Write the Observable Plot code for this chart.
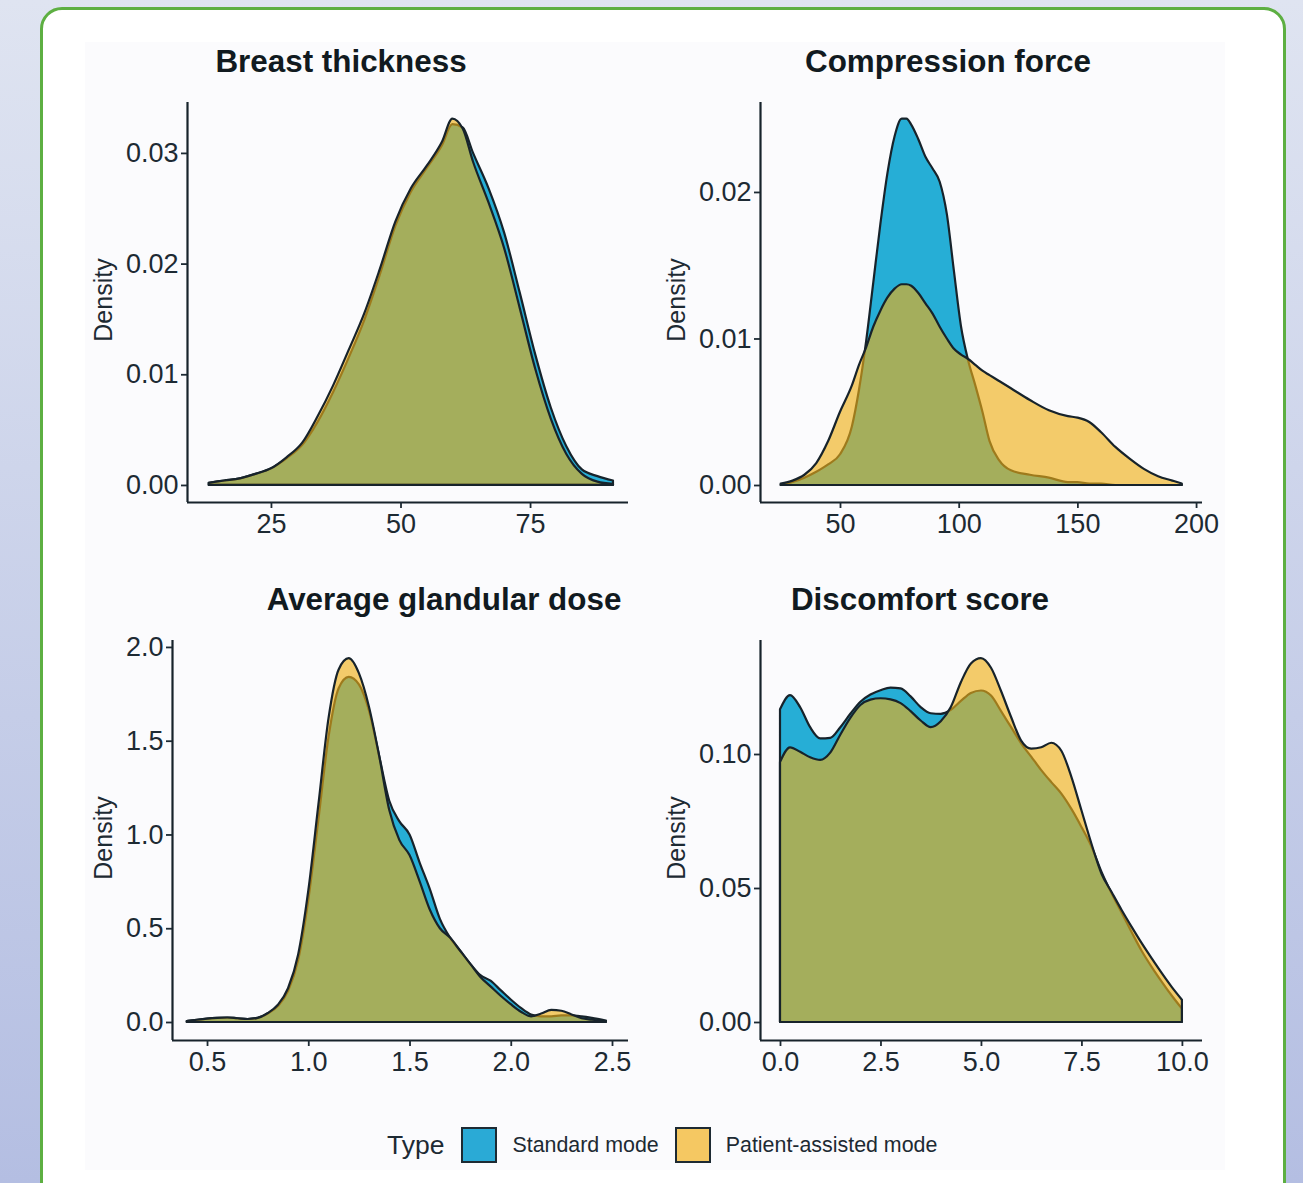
<!DOCTYPE html>
<html>
<head>
<meta charset="utf-8">
<script src="https://cdn.jsdelivr.net/npm/d3@7"></script>
<script src="https://cdn.jsdelivr.net/npm/@observablehq/plot@0.6"></script>
<style>
html,body{margin:0;padding:0;}
body{width:1303px;height:1183px;overflow:hidden;position:relative;
  background:linear-gradient(180deg,#dfe4f1 0%,#b4bee2 100%);
  font-family:"Liberation Sans",Arial,Helvetica,sans-serif;color:#1d2a33;}
#card{position:absolute;left:40px;top:7px;width:1240px;height:1220px;background:#ffffff;
  border:3px solid #5daf42;border-radius:22px;}
#inner{position:absolute;left:85px;top:42px;width:1140px;height:1128px;background:#fbfbfd;}
.panel{position:absolute;}
.panel svg{overflow:visible;}
.title{position:absolute;font-weight:bold;font-size:31.4px;line-height:30px;white-space:nowrap;transform:translateX(-50%);color:#111a20;}
.ylab{position:absolute;font-size:25px;line-height:25px;white-space:nowrap;transform:translate(-50%,-50%) rotate(-90deg);}
#legend{position:absolute;left:387px;top:1126px;height:38px;display:flex;align-items:center;white-space:nowrap;}
#legend .lt{font-size:26.5px;margin-right:17px;}
#legend .sw{width:32px;height:32px;border:2px solid #1d2a33;box-sizing:content-box;margin-right:15px;}
#legend .ll{font-size:21.4px;margin-right:16px;}
</style>
</head>
<body>
<div id="card"></div>
<div id="inner"></div>
<div id="root"></div>
<script>
// ---------- data ----------
const types = ["Standard mode", "Patient-assisted mode"];

// Breast thickness
const thickX   = [13,16,19,22,25,28,31,34,37,40,43,46,49,52,55,58,60,62,64,67,70,73,76,79,82,85,88,91];
const thickStd = [0.0002,0.0004,0.0006,0.0010,0.0015,0.0024,0.0036,0.0057,0.0084,0.0115,0.0149,0.0190,0.0234,0.0265,0.0286,0.0307,0.0326,0.0323,0.0300,0.0268,0.0228,0.0174,0.0118,0.0070,0.0035,0.0014,0.0008,0.0004];
const thickPat = [0.0002,0.0004,0.0006,0.0010,0.0015,0.0025,0.0038,0.0062,0.0090,0.0122,0.0155,0.0195,0.0238,0.0268,0.0288,0.0310,0.0331,0.0322,0.0292,0.0255,0.0214,0.0160,0.0105,0.0060,0.0028,0.0010,0.0003,0.0001];
const thickXTicks = [25,50,75];
const thickYTicks = [0,0.01,0.02,0.03];

// Compression force
const forceX   = [25,30,35,40,45,50,55,58,61,64,67,70,73,76,78,80,83,86,89,92,95,98,101,104,107,110,113,117,122,130,138,146,150,155,160,166,172,178,184,190,194];
const forceStd = [0,0.0002,0.0005,0.0009,0.0014,0.0021,0.0040,0.0065,0.0098,0.0138,0.0178,0.0213,0.0238,0.0250,0.0250,0.0246,0.0236,0.0224,0.0216,0.0207,0.0185,0.0146,0.0108,0.0085,0.0068,0.0050,0.0030,0.0017,0.0010,0.0007,0.0005,0.0002,0.0002,0.0001,0.0001,0,0,0,0,0,0];
const forcePat = [0.0001,0.0003,0.0007,0.0015,0.0030,0.0050,0.0068,0.0082,0.0094,0.0108,0.0119,0.0128,0.0134,0.0137,0.0137,0.0136,0.0131,0.0124,0.0117,0.0108,0.0100,0.0093,0.0089,0.0086,0.0082,0.0078,0.0075,0.0071,0.0066,0.0058,0.0051,0.0047,0.0046,0.0043,0.0036,0.0026,0.0018,0.0011,0.0006,0.0003,0.0001];
const forceXTicks = [50,100,150,200];
const forceYTicks = [0,0.01,0.02];

// Average glandular dose
const doseX   = [0.40,0.45,0.50,0.55,0.60,0.65,0.70,0.75,0.80,0.85,0.90,0.95,1.00,1.05,1.10,1.15,1.20,1.25,1.30,1.35,1.40,1.45,1.50,1.55,1.60,1.65,1.70,1.75,1.80,1.85,1.90,1.95,2.00,2.05,2.10,2.15,2.20,2.25,2.30,2.35,2.40,2.47];
const doseStd = [0.005,0.012,0.018,0.022,0.024,0.020,0.016,0.022,0.045,0.085,0.165,0.33,0.65,1.08,1.52,1.78,1.84,1.80,1.66,1.42,1.18,1.07,1.00,0.85,0.71,0.55,0.45,0.38,0.31,0.25,0.22,0.17,0.12,0.075,0.04,0.03,0.03,0.035,0.035,0.03,0.022,0.008];
const dosePat = [0.005,0.012,0.018,0.022,0.024,0.020,0.016,0.022,0.048,0.092,0.18,0.36,0.70,1.16,1.62,1.88,1.94,1.86,1.68,1.42,1.13,0.97,0.89,0.75,0.60,0.50,0.45,0.38,0.31,0.24,0.19,0.14,0.095,0.055,0.03,0.045,0.065,0.06,0.04,0.02,0.012,0.003];
const doseXTicks = [0.5,1.0,1.5,2.0,2.5];
const doseYTicks = [0,0.5,1.0,1.5,2.0];

// Discomfort score
const painX   = [0,0.25,0.5,0.75,1,1.25,1.5,1.75,2,2.25,2.5,2.75,3,3.25,3.5,3.75,4,4.25,4.5,4.75,5,5.25,5.5,5.75,6,6.25,6.5,6.75,7,7.25,7.5,7.75,8,8.25,8.5,8.75,9,9.25,9.5,9.75,10];
const painStd = [0.1167,0.1220,0.1175,0.1100,0.1058,0.1060,0.1100,0.1150,0.1195,0.1222,0.1238,0.1248,0.1245,0.1215,0.1175,0.1152,0.1150,0.1165,0.1198,0.1228,0.1237,0.1218,0.1160,0.1100,0.1040,0.0990,0.0940,0.0895,0.0852,0.0795,0.0728,0.0655,0.0560,0.0480,0.0408,0.0335,0.0265,0.0205,0.0150,0.0098,0.0050];
const painPat = [0.0970,0.1025,0.1008,0.0988,0.0978,0.1005,0.1072,0.1135,0.1183,0.1203,0.1208,0.1204,0.1190,0.1160,0.1125,0.1100,0.1122,0.1175,0.1268,0.1338,0.1358,0.1322,0.1235,0.1138,0.1050,0.1020,0.1025,0.1042,0.1012,0.0915,0.0790,0.0665,0.0553,0.0485,0.0418,0.0355,0.0294,0.0237,0.0182,0.0130,0.0083];
const painXTicks = [0,2.5,5,7.5,10];
const painYTicks = [0,0.05,0.10];

// ---------- drawing ----------
const ink = "#17232b";
const blue = "#26aed6";
const yellow = "#eeae14";
const root = document.getElementById("root");

function rowsOf(xs, s, p) { return xs.map((x, i) => ({x, std: s[i], pat: p[i]})); }

function panel(o) {
  const [bx, by, bw, bh] = o.box;
  const f = o.frame;
  const rows = o.rows;
  const svg = Plot.plot({
    width: bw, height: bh,
    marginLeft: f.x0 - bx, marginRight: bx + bw - f.x1,
    marginTop: f.y0 - by, marginBottom: by + bh - f.y1,
    x: {domain: o.xDomain, label: null},
    y: {domain: o.yDomain, label: null},
    style: {background: "transparent", color: "#1d2a33", fontSize: "27px", fontFamily: "'Liberation Sans', Arial, sans-serif", overflow: "visible"},
    marks: [
      Plot.areaY(rows, {x: "x", y: "std", fill: blue, stroke: ink, strokeWidth: 2.2, curve: "monotone-x"}),
      Plot.areaY(rows, {x: "x", y: "pat", fill: yellow, fillOpacity: 0.63, stroke: ink, strokeWidth: 2.2, curve: "monotone-x"}),
      Plot.ruleX([o.xDomain[0]], {stroke: ink, strokeWidth: 2.2}),
      Plot.ruleY([o.yDomain[0]], {stroke: ink, strokeWidth: 2.2}),
      Plot.axisX({ticks: o.xTicks, tickFormat: o.xFmt, tickSize: 6, tickPadding: 5, strokeWidth: 1.8, label: null}),
      Plot.axisY({ticks: o.yTicks, tickFormat: o.yFmt, tickSize: 6, tickPadding: 3, strokeWidth: 1.8, label: null})
    ]
  });
  const d = document.createElement("div");
  d.className = "panel";
  d.style.left = bx + "px"; d.style.top = by + "px";
  d.appendChild(svg);
  root.appendChild(d);

  const t = document.createElement("div");
  t.className = "title"; t.textContent = o.title;
  t.style.left = o.titlePos[0] + "px"; t.style.top = o.titlePos[1] + "px";
  root.appendChild(t);

  const l = document.createElement("div");
  l.className = "ylab"; l.textContent = "Density";
  l.style.left = o.ylabPos[0] + "px"; l.style.top = o.ylabPos[1] + "px";
  root.appendChild(l);
}

panel({
  title: "Breast thickness", titlePos: [341, 47], ylabPos: [103, 300],
  rows: rowsOf(thickX, thickStd, thickPat),
  box: [85, 90, 565, 470], frame: {x0: 187, x1: 628, y0: 102, y1: 502},
  xDomain: [8.8, 93.9], yDomain: [-0.00154, 0.0346],
  xTicks: thickXTicks, yTicks: thickYTicks, xFmt: d3.format("d"), yFmt: d3.format(".2f")
});
panel({
  title: "Compression force", titlePos: [948, 47], ylabPos: [676, 300],
  rows: rowsOf(forceX, forceStd, forcePat),
  box: [650, 90, 575, 470], frame: {x0: 760, x1: 1202, y0: 102, y1: 502},
  xDomain: [16.3, 202.5], yDomain: [-0.00116, 0.02614],
  xTicks: forceXTicks, yTicks: forceYTicks, xFmt: d3.format("d"), yFmt: d3.format(".2f")
});
panel({
  title: "Average glandular dose", titlePos: [444, 585], ylabPos: [103, 838],
  rows: rowsOf(doseX, doseStd, dosePat),
  box: [85, 625, 565, 470], frame: {x0: 172, x1: 628, y0: 640, y1: 1040},
  xDomain: [0.327, 2.579], yDomain: [-0.096, 2.037],
  xTicks: doseXTicks, yTicks: doseYTicks, xFmt: d3.format(".1f"), yFmt: d3.format(".1f")
});
panel({
  title: "Discomfort score", titlePos: [920, 585], ylabPos: [676, 838],
  rows: rowsOf(painX, painStd, painPat),
  box: [650, 625, 575, 470], frame: {x0: 760, x1: 1202, y0: 640, y1: 1040},
  xDomain: [-0.4975, 10.5], yDomain: [-0.00672, 0.14254],
  xTicks: painXTicks, yTicks: painYTicks, xFmt: d3.format(".1f"), yFmt: d3.format(".2f")
});

// legend
const lg = document.createElement("div");
lg.id = "legend";
const lt = document.createElement("span"); lt.className = "lt"; lt.textContent = "Type"; lg.appendChild(lt);
const swatchColors = ["#2aaad6", "#f5c862"];
types.forEach((name, i) => {
  const sw = document.createElement("span"); sw.className = "sw"; sw.style.background = swatchColors[i]; lg.appendChild(sw);
  const ll = document.createElement("span"); ll.className = "ll"; ll.textContent = name; lg.appendChild(ll);
});
root.appendChild(lg);
</script>
</body>
</html>
